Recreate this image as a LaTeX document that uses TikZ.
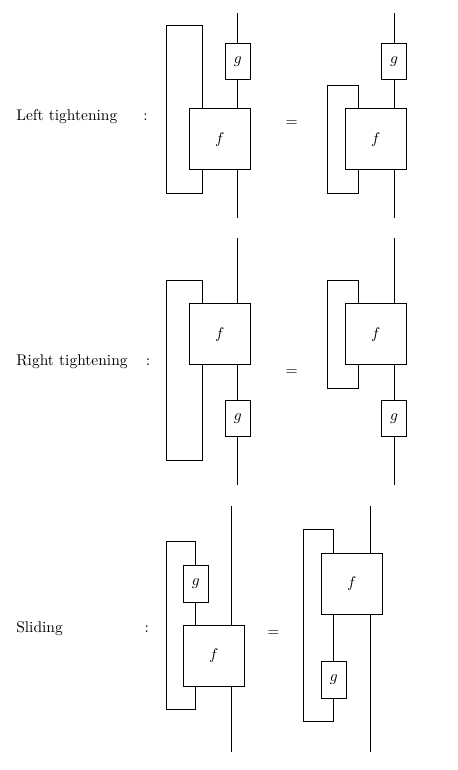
\documentclass[tikz,border=0pt]{standalone}
\usetikzlibrary{positioning}
\tikzset{
    fbox/.style={draw, minimum width=39.3pt, minimum height=39.3pt, inner sep=0pt},
    gbox/.style={draw, minimum width=16.3pt, minimum height=23.7pt, inner sep=0pt},
    wire/.style={-},
    rulename/.style={anchor=base west, inner sep=0pt},
    colon/.style={anchor=base, inner sep=0pt},
    eqsign/.style={inner sep=0pt},
}
\begin{document}
\begin{tikzpicture}[x=0.645pt, y=-0.645pt]
    \useasboundingbox (0,0) rectangle (457,770);
    % Rule names
    \node[rulename] (nl) at (16,120) {Left tightening};
    \node[colon] (cl) at (145.5,120) {:};
    \node[rulename] (nr) at (16,365.7) {Right tightening};
    \node[colon] (cr) at (148,365.7) {:};
    \node[rulename] (ns) at (16,632) {Sliding};
    \node[colon] (cs) at (146.7,632) {:};
    \node[eqsign] (e1) at (291.7,124) {$=$};
    \node[eqsign] (e2) at (291.7,373) {$=$};
    \node[eqsign] (e3) at (273.3,634) {$=$};
    % Left tightening, left side
    \node[fbox] (fa) at (219.7,139.2) {$f$};
    \node[gbox] (ga) at (237.8,61.3) {$g$};
    \coordinate (ta) at (237.8,13);
    \coordinate (ba) at (237.8,218);
    \coordinate (lta) at (166,25);
    \coordinate (lba) at (202.3,193);
    \draw[wire] (ta) -- (ga.north);
    \draw[wire] (ga.south) -- (ga.south |- fa.north);
    \draw[wire] (ba |- fa.south) -- (ba);
    \draw[wire] (lba |- fa.north) |- (lta) |- (lba) -- (lba |- fa.south);
    % Left tightening, right side
    \node[fbox] (fb) at (375.8,139.2) {$f$};
    \node[gbox] (gb) at (394,61.3) {$g$};
    \coordinate (tb) at (394,13);
    \coordinate (bb) at (394,218);
    \coordinate (ltb) at (327.3,85.7);
    \coordinate (lbb) at (358.3,193);
    \draw[wire] (tb) -- (gb.north);
    \draw[wire] (gb.south) -- (gb.south |- fb.north);
    \draw[wire] (bb |- fb.south) -- (bb);
    \draw[wire] (lbb |- fb.north) |- (ltb) |- (lbb) -- (lbb |- fb.south);
    % Right tightening, left side
    \node[fbox] (fc) at (219.7,334.2) {$f$};
    \node[gbox] (gc) at (237.8,418.3) {$g$};
    \coordinate (tc) at (237.8,238.3);
    \coordinate (bc) at (237.8,485);
    \coordinate (ltc) at (166,280.7);
    \coordinate (lbc) at (202.3,460);
    \draw[wire] (tc) -- (tc |- fc.north);
    \draw[wire] (gc.north |- fc.south) -- (gc.north);
    \draw[wire] (gc.south) -- (bc);
    \draw[wire] (lbc |- fc.north) |- (ltc) |- (lbc) -- (lbc |- fc.south);
    % Right tightening, right side
    \node[fbox] (fd) at (375.8,334.2) {$f$};
    \node[gbox] (gd) at (394,418.3) {$g$};
    \coordinate (td) at (394,238.3);
    \coordinate (bd) at (394,485);
    \coordinate (ltd) at (327.3,280.7);
    \coordinate (lbd) at (358.3,388.3);
    \draw[wire] (td) -- (td |- fd.north);
    \draw[wire] (gd.north |- fd.south) -- (gd.north);
    \draw[wire] (gd.south) -- (bd);
    \draw[wire] (lbd |- fd.north) |- (ltd) |- (lbd) -- (lbd |- fd.south);
    % Sliding, left side
    \node[fbox] (fe) at (213.7,655.7) {$f$};
    \node[gbox] (ge) at (195.8,583.7) {$g$};
    \coordinate (te) at (231.3,506);
    \coordinate (be) at (231.3,751.7);
    \coordinate (lte) at (166,541);
    \coordinate (lbe) at (195.8,709);
    \draw[wire] (te) -- (te |- fe.north);
    \draw[wire] (be |- fe.south) -- (be);
    \draw[wire] (ge.south |- fe.north) -- (ge.south);
    \draw[wire] (ge.north) |- (lte) |- (lbe) -- (lbe |- fe.south);
    % Sliding, right side
    \node[fbox] (ff) at (351.8,583.7) {$f$};
    \node[gbox] (gf) at (333.8,679.7) {$g$};
    \coordinate (tf) at (370.7,506);
    \coordinate (bf) at (370.7,751.7);
    \coordinate (ltf) at (303.3,529);
    \coordinate (lbf) at (333.8,721.7);
    \draw[wire] (tf) -- (tf |- ff.north);
    \draw[wire] (bf |- ff.south) -- (bf);
    \draw[wire] (lbf |- ff.north) |- (ltf) |- (lbf) -- (gf.south);
    \draw[wire] (gf.north) -- (gf.north |- ff.south);
\end{tikzpicture}
\end{document}
